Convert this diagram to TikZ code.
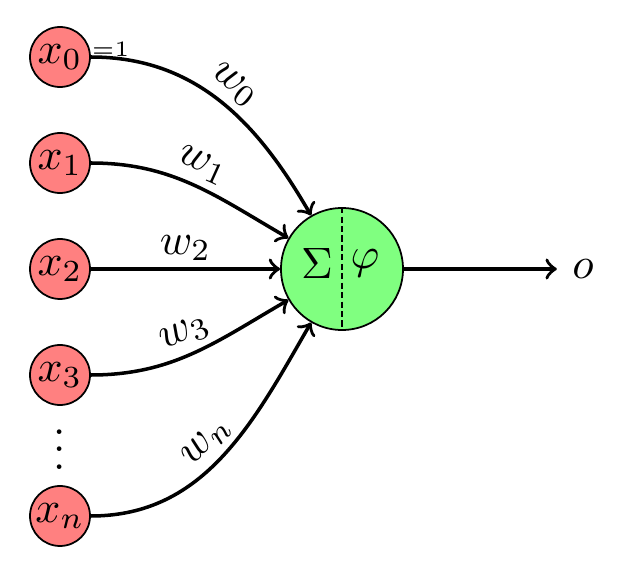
\documentclass[tikz,border=0pt]{standalone}
\usepackage{amsmath,amssymb}
\usepackage{xcolor}
\usepackage{tikz}
\definecolor{inred}{HTML}{FF8080}
\definecolor{sumgreen}{HTML}{80FF80}
\tikzset{
  input/.style={circle, draw=black, fill=inred, minimum size=0.48cm, inner sep=0pt},
  neuron/.style={circle, draw=black, fill=sumgreen, minimum size=0.976cm, inner sep=0pt},
  edge/.style={draw=black, thick, ->},
  weight/.style={sloped, above, inner sep=1.5pt},
  split/.style={draw=black, dash pattern=on 1.4pt off 0.75pt}
}
\begin{document}
\begin{tikzpicture}
  \useasboundingbox (0,0) rectangle (5.112,-4.608);
  \node[neuron] (N) at (2.736,-2.152) {};
  \draw[split] (N.north) -- (N.south);
  \node (S) at (2.536,-2.104) {$\Sigma$};
  \node (F) at (2.92,-2.104) {$\varphi$};

  \foreach \i/\y/\a in {0/-0.456/120,1/-1.304/150,2/-2.152/180,3/-3.0/210,n/-4.128/240}{
    \node[input] (X\i) at (0.48,\y) {$x_\i$};
    \draw[edge] (X\i) to[out=0,in=\a] node[weight] {$w_\i$} (N);
  }
  \node[anchor=south west, inner sep=0pt, font=\tiny] (one) at (X0.east) {=1};
  \node (dots) at (0.48,-3.49) {$\vdots$};

  \node (O) at (4.664,-2.152) {$o$};
  \draw[edge] (N) -- (O);
\end{tikzpicture}
\end{document}
